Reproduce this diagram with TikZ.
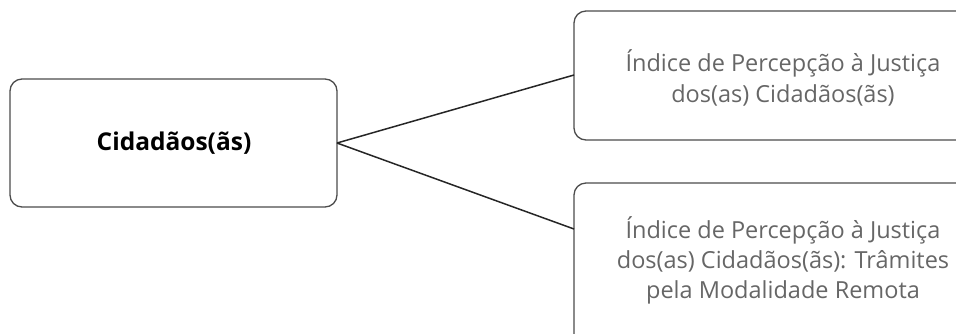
\documentclass[tikz,border=0pt]{standalone}
\usepackage{fontspec}
\setmainfont{Open Sans}
\begin{document}
\begin{tikzpicture}[x=1pt,y=-1pt,
  boxline/.style={draw=black!70,line width=1.3pt,rounded corners=12pt},
  conn/.style={draw=black!85,line width=1.5pt},
  lbl/.style={align=center,inner sep=0pt},
  rtext/.style={lbl,text=black!60}]
\useasboundingbox (0,0) rectangle (956,333);
\clip (0,0) rectangle (956,333);
\draw[boxline] (10,79) rectangle (337,207);
\draw[boxline] (574,11) rectangle (985,140);
\draw[boxline] (574,183) rectangle (985,370);
\node[lbl,font=\fontsize{24.5}{28}\selectfont\bfseries] (c) at (174,143) {Cidadãos(ãs)};
\node[rtext,font=\fontsize{23.5}{31}\selectfont] (a) at (783,78) {Índice de Percepção à Justiça\\dos(as) Cidadãos(ãs)};
\node[rtext,font=\fontsize{23.5}{30}\selectfont] (b) at (783,260) {Índice de Percepção à Justiça\\dos(as) Cidadãos(ãs): Trâmites\\pela Modalidade Remota};
\coordinate (p) at (337,143);
\coordinate (q1) at (574,75);
\coordinate (q2) at (574,229);
\draw[conn] (p) -- (q1);
\draw[conn] (p) -- (q2);
\end{tikzpicture}
\end{document}
